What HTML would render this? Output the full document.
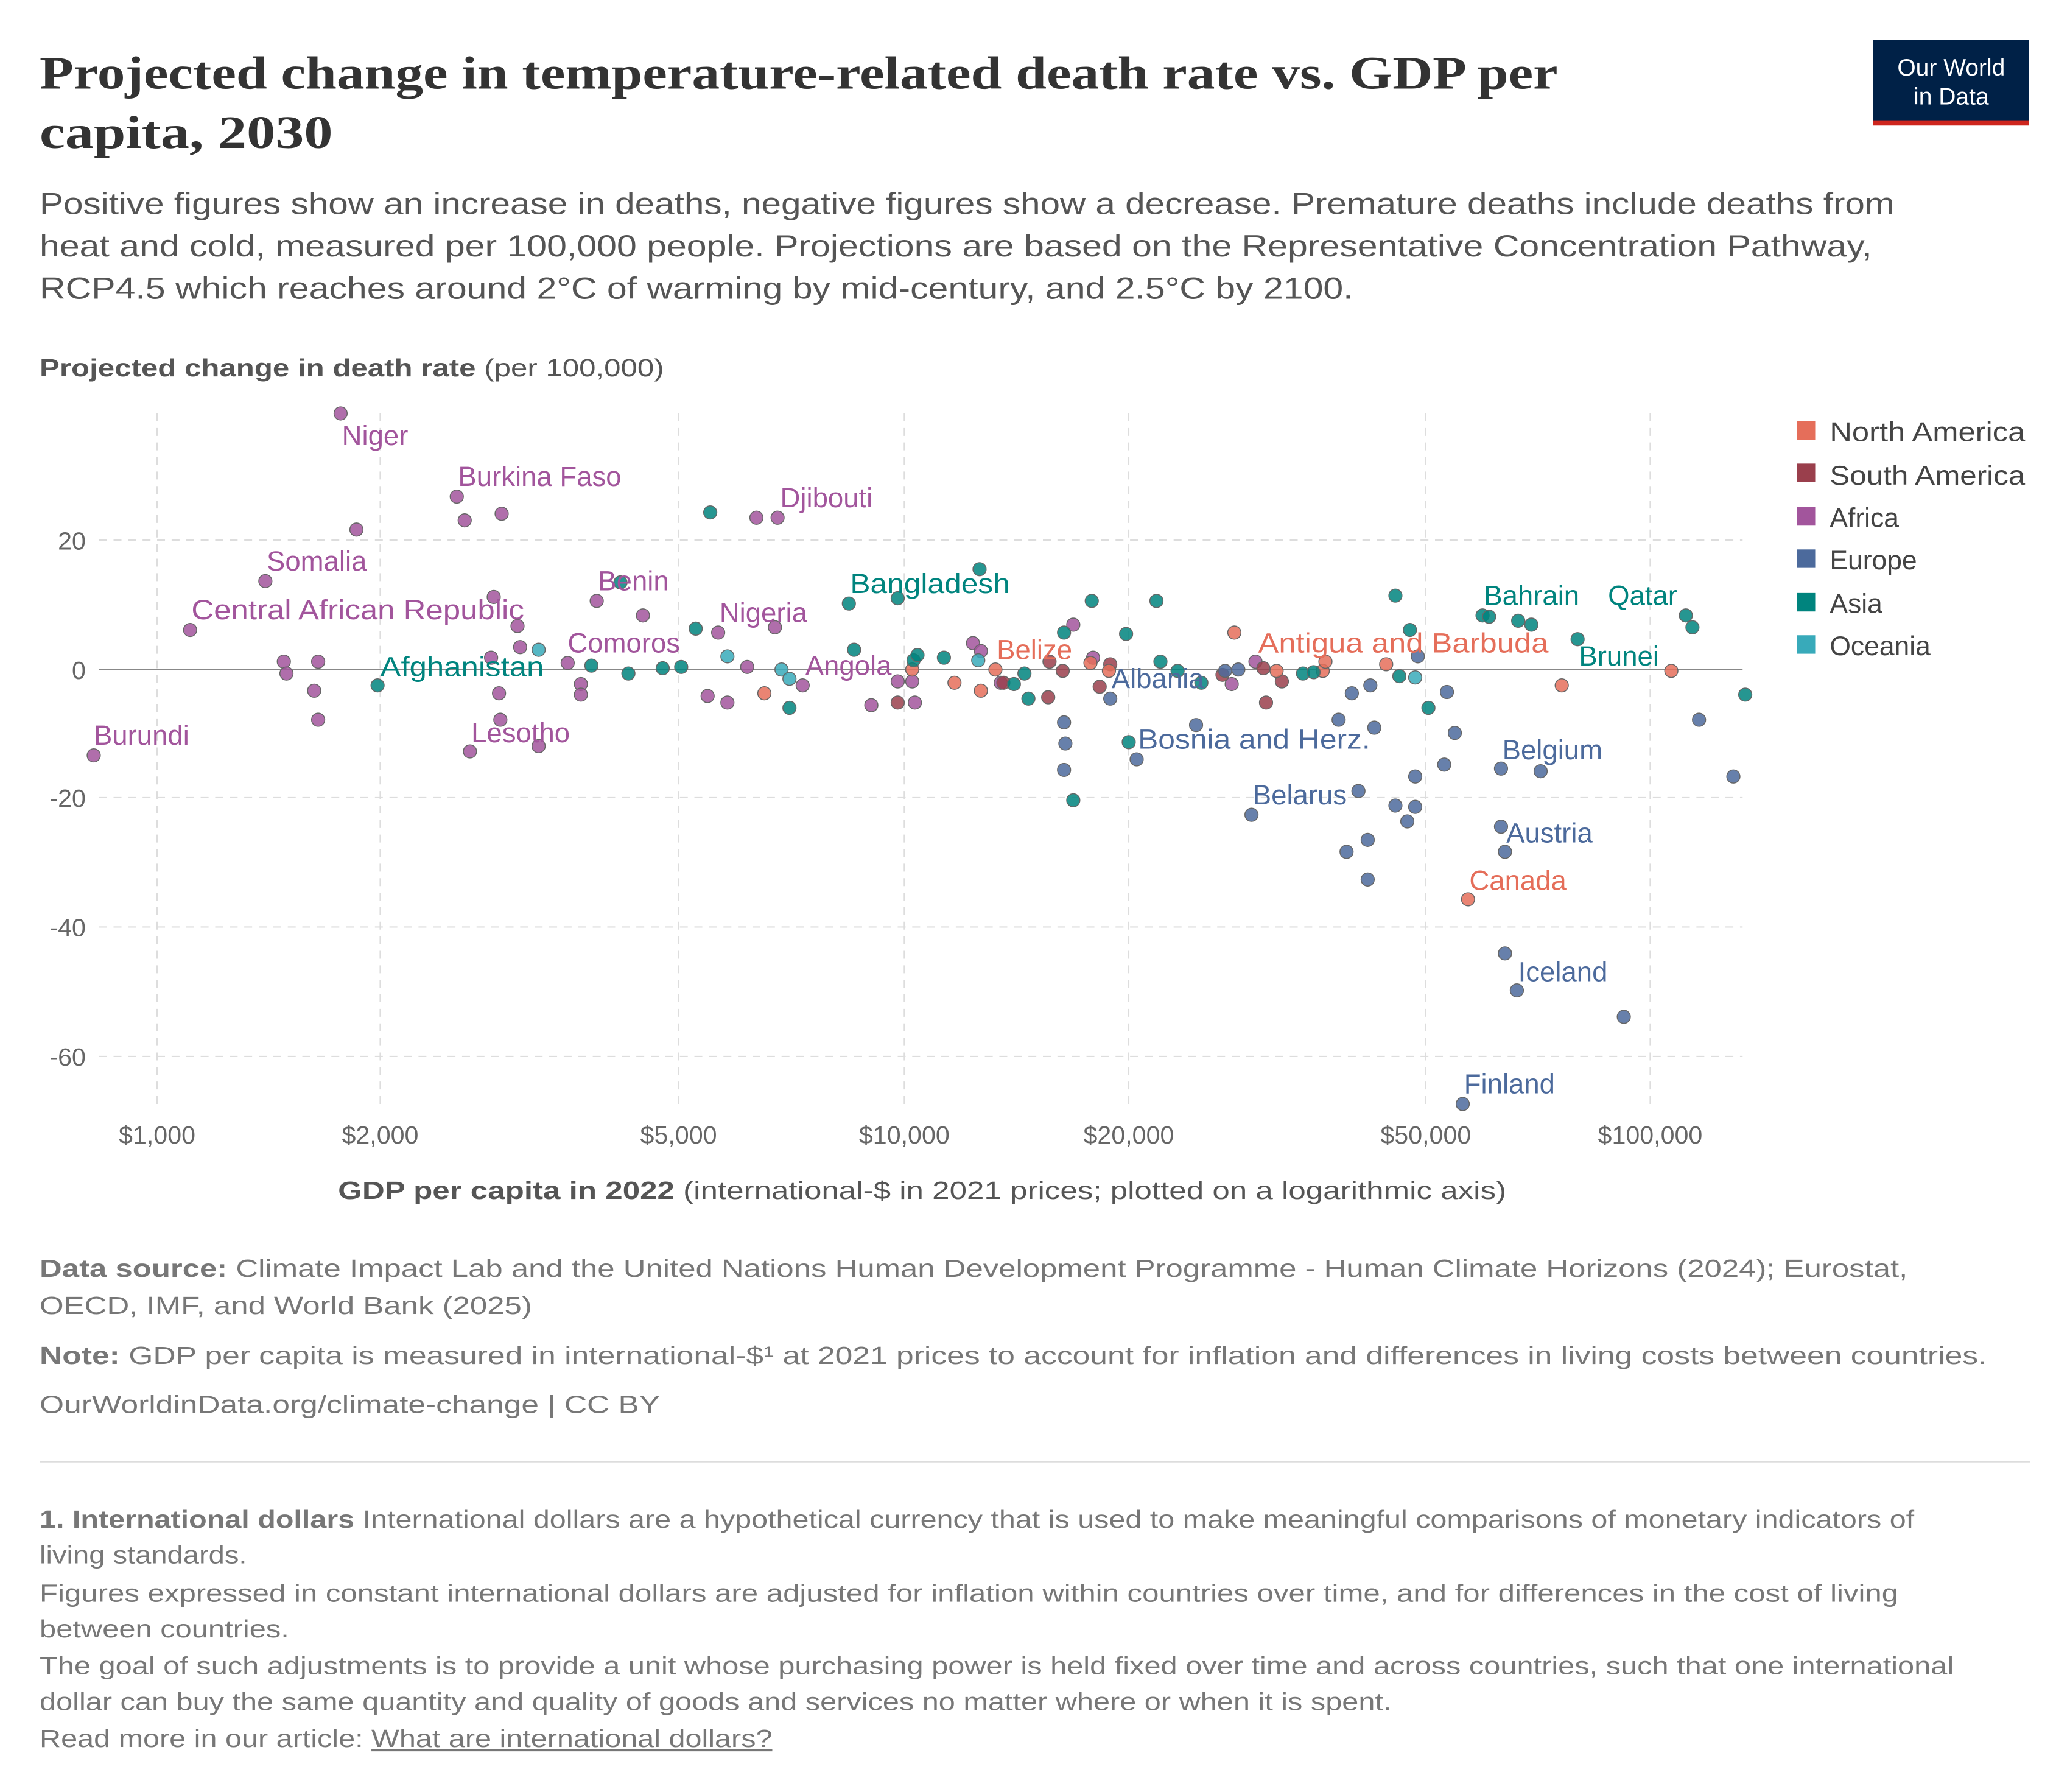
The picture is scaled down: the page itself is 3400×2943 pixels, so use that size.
<!DOCTYPE html>
<html><head><meta charset="utf-8"><style>
html,body{margin:0;padding:0;background:#fff}
svg{display:block}
text{font-family:"Liberation Sans",sans-serif}
</style></head><body>
<svg width="3400" height="2943" viewBox="0 0 1568 1357" xmlns="http://www.w3.org/2000/svg">
<rect width="1568" height="1357" fill="#fff"/>
<text x="30" y="67" font-weight="bold" font-size="35" fill="#333" style="font-family:'Liberation Serif',serif" textLength="1150" lengthAdjust="spacingAndGlyphs">Projected change in temperature-related death rate vs. GDP per</text>
<text x="30" y="112" font-weight="bold" font-size="35" fill="#333" style="font-family:'Liberation Serif',serif" textLength="222" lengthAdjust="spacingAndGlyphs">capita, 2030</text>
<rect x="1419" y="30" width="118" height="62" fill="#002147"/>
<rect x="1419" y="91" width="118" height="4" fill="#ce261e"/>
<text x="1478" y="57" font-size="18" fill="#fff" text-anchor="middle">Our World</text>
<text x="1478" y="79" font-size="18" fill="#fff" text-anchor="middle">in Data</text>
<g font-size="23" fill="#555">
<text x="30" y="162" textLength="1405" lengthAdjust="spacingAndGlyphs">Positive figures show an increase in deaths, negative figures show a decrease. Premature deaths include deaths from</text>
<text x="30" y="194" textLength="1388" lengthAdjust="spacingAndGlyphs">heat and cold, measured per 100,000 people. Projections are based on the Representative Concentration Pathway,</text>
<text x="30" y="226" textLength="995" lengthAdjust="spacingAndGlyphs">RCP4.5 which reaches around 2°C of warming by mid-century, and 2.5°C by 2100.</text>
</g>
<text x="30" y="285" font-size="19" fill="#555" textLength="473" lengthAdjust="spacingAndGlyphs"><tspan font-weight="bold">Projected change in death rate</tspan> (per 100,000)</text>
<g stroke="#ddd" stroke-dasharray="6,5" stroke-width="1">
<line x1="119" y1="313" x2="119" y2="840"/><line x1="288" y1="313" x2="288" y2="840"/><line x1="514" y1="313" x2="514" y2="840"/><line x1="685" y1="313" x2="685" y2="840"/><line x1="855" y1="313" x2="855" y2="840"/><line x1="1080" y1="313" x2="1080" y2="840"/><line x1="1250" y1="313" x2="1250" y2="840"/>
<line x1="75" y1="409" x2="1320" y2="409"/><line x1="75" y1="604" x2="1320" y2="604"/><line x1="75" y1="702" x2="1320" y2="702"/><line x1="75" y1="800" x2="1320" y2="800"/>
</g>
<line x1="75" y1="507" x2="1320" y2="507" stroke="#888" stroke-width="1.2"/>
<g font-size="19" fill="#666" text-anchor="end">
<text x="65" y="416">20</text><text x="65" y="514">0</text><text x="65" y="611">-20</text><text x="65" y="709">-40</text><text x="65" y="807">-60</text>
</g>
<g font-size="19" fill="#666" text-anchor="middle">
<text x="119" y="866">$1,000</text><text x="288" y="866">$2,000</text><text x="514" y="866">$5,000</text><text x="685" y="866">$10,000</text><text x="855" y="866">$20,000</text><text x="1080" y="866">$50,000</text><text x="1250" y="866">$100,000</text>
</g>
<text x="256" y="908" font-size="19" fill="#555" textLength="885" lengthAdjust="spacingAndGlyphs"><tspan font-weight="bold">GDP per capita in 2022</tspan> (international-$ in 2021 prices; plotted on a logarithmic axis)</text>
<g stroke="#666" stroke-width="0.7" fill-opacity="0.85">
<g fill="#a2559c">
<circle cx="258" cy="313" r="5"/><circle cx="270" cy="401" r="5"/><circle cx="346" cy="376" r="5"/><circle cx="352" cy="394" r="5"/><circle cx="380" cy="389" r="5"/><circle cx="201" cy="440" r="5"/><circle cx="144" cy="477" r="5"/><circle cx="71" cy="572" r="5"/><circle cx="215" cy="501" r="5"/><circle cx="217" cy="510" r="5"/><circle cx="241" cy="501" r="5"/><circle cx="238" cy="523" r="5"/><circle cx="241" cy="545" r="5"/><circle cx="374" cy="452" r="5"/><circle cx="392" cy="474" r="5"/><circle cx="394" cy="490" r="5"/><circle cx="378" cy="525" r="5"/><circle cx="379" cy="545" r="5"/><circle cx="356" cy="569" r="5"/><circle cx="408" cy="565" r="5"/><circle cx="452" cy="455" r="5"/><circle cx="487" cy="466" r="5"/><circle cx="430" cy="502" r="5"/><circle cx="440" cy="518" r="5"/><circle cx="440" cy="526" r="5"/><circle cx="544" cy="479" r="5"/><circle cx="587" cy="475" r="5"/><circle cx="573" cy="392" r="5"/><circle cx="589" cy="392" r="5"/><circle cx="536" cy="527" r="5"/><circle cx="551" cy="532" r="5"/><circle cx="566" cy="505" r="5"/><circle cx="608" cy="519" r="5"/><circle cx="660" cy="534" r="5"/><circle cx="680" cy="516" r="5"/><circle cx="691" cy="516" r="5"/><circle cx="693" cy="532" r="5"/><circle cx="737" cy="487" r="5"/><circle cx="743" cy="493" r="5"/><circle cx="758" cy="517" r="5"/><circle cx="813" cy="473" r="5"/><circle cx="828" cy="498" r="5"/><circle cx="933" cy="518" r="5"/><circle cx="951" cy="501" r="5"/><circle cx="372" cy="498" r="5"/>
</g>
<g fill="#9a3f4c">
<circle cx="680" cy="532" r="5"/><circle cx="805" cy="508" r="5"/><circle cx="795" cy="501" r="5"/><circle cx="833" cy="520" r="5"/><circle cx="841" cy="503" r="5"/><circle cx="926" cy="511" r="5"/><circle cx="957" cy="506" r="5"/><circle cx="971" cy="516" r="5"/><circle cx="959" cy="532" r="5"/><circle cx="794" cy="528" r="5"/><circle cx="760" cy="517" r="5"/>
</g>
<g fill="#e56e5a">
<circle cx="579" cy="525" r="5"/><circle cx="691" cy="507" r="5"/><circle cx="723" cy="517" r="5"/><circle cx="743" cy="523" r="5"/><circle cx="754" cy="507" r="5"/><circle cx="826" cy="502" r="5"/><circle cx="840" cy="508" r="5"/><circle cx="935" cy="479" r="5"/><circle cx="1002" cy="508" r="5"/><circle cx="1050" cy="503" r="5"/><circle cx="1112" cy="681" r="5"/><circle cx="1183" cy="519" r="5"/><circle cx="1266" cy="508" r="5"/><circle cx="967" cy="508" r="5"/><circle cx="1004" cy="501" r="5"/>
</g>
<g fill="#4c6a9c">
<circle cx="806" cy="547" r="5"/><circle cx="807" cy="563" r="5"/><circle cx="806" cy="583" r="5"/><circle cx="841" cy="529" r="5"/><circle cx="861" cy="575" r="5"/><circle cx="906" cy="549" r="5"/><circle cx="928" cy="508" r="5"/><circle cx="948" cy="617" r="5"/><circle cx="1014" cy="545" r="5"/><circle cx="1024" cy="525" r="5"/><circle cx="1029" cy="599" r="5"/><circle cx="1036" cy="636" r="5"/><circle cx="1036" cy="666" r="5"/><circle cx="1020" cy="645" r="5"/><circle cx="1038" cy="519" r="5"/><circle cx="1041" cy="551" r="5"/><circle cx="1057" cy="610" r="5"/><circle cx="1066" cy="622" r="5"/><circle cx="1072" cy="611" r="5"/><circle cx="1072" cy="588" r="5"/><circle cx="1074" cy="497" r="5"/><circle cx="1094" cy="579" r="5"/><circle cx="1096" cy="524" r="5"/><circle cx="1102" cy="555" r="5"/><circle cx="1137" cy="582" r="5"/><circle cx="1137" cy="626" r="5"/><circle cx="1140" cy="645" r="5"/><circle cx="1140" cy="722" r="5"/><circle cx="1149" cy="750" r="5"/><circle cx="1167" cy="584" r="5"/><circle cx="1230" cy="770" r="5"/><circle cx="1108" cy="836" r="5"/><circle cx="1287" cy="545" r="5"/><circle cx="1313" cy="588" r="5"/><circle cx="938" cy="507" r="5"/>
</g>
<g fill="#00847e">
<circle cx="286" cy="519" r="5"/><circle cx="448" cy="504" r="5"/><circle cx="470" cy="441" r="5"/><circle cx="476" cy="510" r="5"/><circle cx="502" cy="506" r="5"/><circle cx="516" cy="505" r="5"/><circle cx="527" cy="476" r="5"/><circle cx="538" cy="388" r="5"/><circle cx="598" cy="536" r="5"/><circle cx="643" cy="457" r="5"/><circle cx="647" cy="492" r="5"/><circle cx="680" cy="453" r="5"/><circle cx="692" cy="500" r="5"/><circle cx="695" cy="496" r="5"/><circle cx="715" cy="498" r="5"/><circle cx="742" cy="431" r="5"/><circle cx="768" cy="518" r="5"/><circle cx="779" cy="529" r="5"/><circle cx="806" cy="479" r="5"/><circle cx="827" cy="455" r="5"/><circle cx="853" cy="480" r="5"/><circle cx="855" cy="562" r="5"/><circle cx="876" cy="455" r="5"/><circle cx="879" cy="501" r="5"/><circle cx="892" cy="508" r="5"/><circle cx="910" cy="517" r="5"/><circle cx="987" cy="510" r="5"/><circle cx="995" cy="509" r="5"/><circle cx="1057" cy="451" r="5"/><circle cx="1060" cy="512" r="5"/><circle cx="1068" cy="477" r="5"/><circle cx="1082" cy="536" r="5"/><circle cx="1123" cy="466" r="5"/><circle cx="1128" cy="467" r="5"/><circle cx="1150" cy="470" r="5"/><circle cx="1160" cy="473" r="5"/><circle cx="1195" cy="484" r="5"/><circle cx="1277" cy="466" r="5"/><circle cx="1282" cy="475" r="5"/><circle cx="1322" cy="526" r="5"/><circle cx="776" cy="510" r="5"/><circle cx="813" cy="606" r="5"/>
</g>
<g fill="#38aaba">
<circle cx="551" cy="497" r="5"/><circle cx="592" cy="507" r="5"/><circle cx="598" cy="514" r="5"/><circle cx="408" cy="492" r="5"/><circle cx="741" cy="500" r="5"/><circle cx="1072" cy="513" r="5"/>
</g>
</g>
<g font-size="21">
<g fill="#a2559c">
<text x="259" y="337">Niger</text><text x="347" y="368">Burkina Faso</text><text x="591" y="384">Djibouti</text><text x="202" y="432">Somalia</text><text x="145" y="469" textLength="252" lengthAdjust="spacingAndGlyphs">Central African Republic</text><text x="71" y="564">Burundi</text><text x="453" y="447">Benin</text><text x="545" y="471">Nigeria</text><text x="430" y="494">Comoros</text><text x="610" y="511">Angola</text><text x="357" y="562">Lesotho</text>
</g>
<g fill="#00847e">
<text x="288" y="512" textLength="124" lengthAdjust="spacingAndGlyphs">Afghanistan</text><text x="644" y="449" textLength="121" lengthAdjust="spacingAndGlyphs">Bangladesh</text><text x="1124" y="458">Bahrain</text><text x="1218" y="458">Qatar</text><text x="1196" y="504">Brunei</text>
</g>
<g fill="#e56e5a">
<text x="755" y="499">Belize</text><text x="953" y="494" textLength="220" lengthAdjust="spacingAndGlyphs">Antigua and Barbuda</text><text x="1113" y="674">Canada</text>
</g>
<g fill="#4c6a9c">
<text x="842" y="521">Albania</text><text x="862" y="567" textLength="176" lengthAdjust="spacingAndGlyphs">Bosnia and Herz.</text><text x="949" y="609">Belarus</text><text x="1138" y="575">Belgium</text><text x="1141" y="638">Austria</text><text x="1150" y="743">Iceland</text><text x="1109" y="828">Finland</text>
</g>
</g>
<g font-size="20.5" fill="#444">
<rect x="1361" y="319" width="14" height="14" fill="#e56e5a"/><text x="1386" y="334" textLength="148" lengthAdjust="spacingAndGlyphs">North America</text>
<rect x="1361" y="351" width="14" height="14" fill="#9a3f4c"/><text x="1386" y="367" textLength="148" lengthAdjust="spacingAndGlyphs">South America</text>
<rect x="1361" y="384" width="14" height="14" fill="#a2559c"/><text x="1386" y="399">Africa</text>
<rect x="1361" y="416" width="14" height="14" fill="#4c6a9c"/><text x="1386" y="431">Europe</text>
<rect x="1361" y="449" width="14" height="14" fill="#00847e"/><text x="1386" y="464">Asia</text>
<rect x="1361" y="481" width="14" height="14" fill="#38aaba"/><text x="1386" y="496">Oceania</text>
</g>
<g font-size="19" fill="#777">
<text x="30" y="967" textLength="1415" lengthAdjust="spacingAndGlyphs"><tspan font-weight="bold">Data source:</tspan> Climate Impact Lab and the United Nations Human Development Programme - Human Climate Horizons (2024); Eurostat,</text>
<text x="30" y="995" textLength="373" lengthAdjust="spacingAndGlyphs">OECD, IMF, and World Bank (2025)</text>
<text x="30" y="1033" textLength="1475" lengthAdjust="spacingAndGlyphs"><tspan font-weight="bold">Note:</tspan> GDP per capita is measured in international-$¹ at 2021 prices to account for inflation and differences in living costs between countries.</text>
<text x="30" y="1070" textLength="470" lengthAdjust="spacingAndGlyphs">OurWorldinData.org/climate-change | CC BY</text>
</g>
<line x1="30" y1="1107" x2="1538" y2="1107" stroke="#ddd"/>
<g font-size="19" fill="#777">
<text x="30" y="1157" textLength="1420" lengthAdjust="spacingAndGlyphs"><tspan font-weight="bold">1. International dollars</tspan> International dollars are a hypothetical currency that is used to make meaningful comparisons of monetary indicators of</text>
<text x="30" y="1184" textLength="157" lengthAdjust="spacingAndGlyphs">living standards.</text>
<text x="30" y="1213" textLength="1408" lengthAdjust="spacingAndGlyphs">Figures expressed in constant international dollars are adjusted for inflation within countries over time, and for differences in the cost of living</text>
<text x="30" y="1240" textLength="189" lengthAdjust="spacingAndGlyphs">between countries.</text>
<text x="30" y="1268" textLength="1450" lengthAdjust="spacingAndGlyphs">The goal of such adjustments is to provide a unit whose purchasing power is held fixed over time and across countries, such that one international</text>
<text x="30" y="1295" textLength="1024" lengthAdjust="spacingAndGlyphs">dollar can buy the same quantity and quality of goods and services no matter where or when it is spent.</text>
<text x="30" y="1323" textLength="555" lengthAdjust="spacingAndGlyphs">Read more in our article: <tspan text-decoration="underline">What are international dollars?</tspan></text>
</g>
</svg>
</body></html>
